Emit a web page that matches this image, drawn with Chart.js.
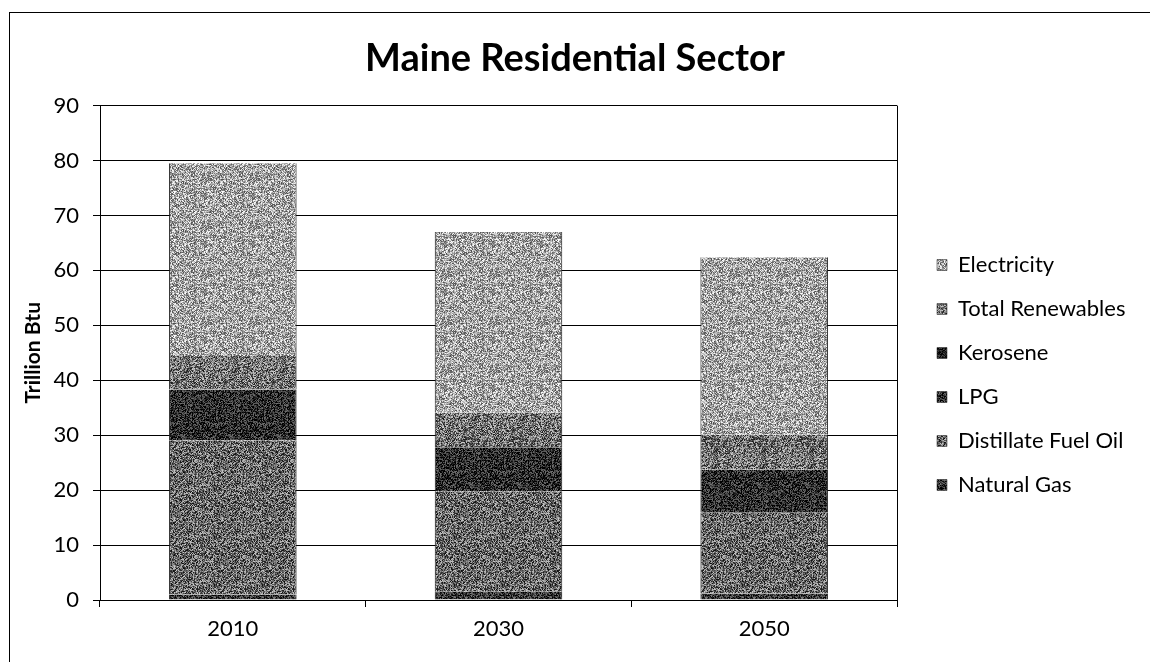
<!DOCTYPE html>
<html>
<head>
<meta charset="utf-8">
<script src="https://cdn.jsdelivr.net/npm/chart.js@4.4.1/dist/chart.umd.min.js"></script>
<style>
 html,body{margin:0;padding:0;background:#fff;}
 #wrap{position:relative;width:1150px;height:662px;}
</style>
</head>
<body>
<div id="wrap"><canvas id="chart" width="1150" height="662"></canvas></div>
<script>
// DATA
const years = ["2010", "2030", "2050"];
const naturalGas = [1.0, 1.5, 1.2];
const distillate = [28.1, 18.3, 14.7];
const lpg = [9.2, 8.0, 7.8];
const kerosene = [0, 0, 0];
const renewables = [6.1, 6.3, 6.4];
const electricity = [35.1, 32.9, 32.3];
const yTicks = [0, 10, 20, 30, 40, 50, 60, 70, 80, 90];

const FONT = "Lato, 'Open Sans', sans-serif";

// speckled grey fill, like the scanned print
let seed = 7;
function lcg(){ seed = (seed * 1103515245 + 12345) & 0x7fffffff; return seed / 0x7fffffff; }
function speckle(base, spread){
  const c = document.createElement("canvas");
  c.width = 48; c.height = 48;
  const g = c.getContext("2d");
  const img = g.createImageData(48, 48);
  for(let i = 0; i < 48 * 48; i++){
    let v = base + (lcg() - 0.5) * 2 * spread;
    v = Math.max(0, Math.min(255, Math.round(v)));
    img.data[i*4] = v; img.data[i*4+1] = v; img.data[i*4+2] = v; img.data[i*4+3] = 255;
  }
  g.putImageData(img, 0, 0);
  return g.createPattern(c, "repeat");
}

// frame round the whole chart + right edge of plot area + legend placement
const extras = {
  id: "extras",
  afterLayout(chart){
    const lg = chart.legend;
    const w = lg.width, h = lg.height;
    lg.left = 915; lg.right = 915 + w;
    lg.top = 232; lg.bottom = 232 + h;
  },
  afterDraw(chart){
    const ctx = chart.ctx, a = chart.chartArea;
    ctx.save();
    ctx.strokeStyle = "#000";
    ctx.lineWidth = 1;
    ctx.strokeRect(9.5, 12.5, 1160, 700);
    ctx.beginPath();
    ctx.moveTo(Math.round(a.right) + 0.5, a.top);
    ctx.lineTo(Math.round(a.right) + 0.5, a.bottom);
    ctx.stroke();
    ctx.restore();
  }
};

function ds(label, data, color){
  return {
    label: label,
    data: data,
    backgroundColor: color,
    borderColor: "#1a1a1a",
    borderWidth: {left: 1, right: 1, top: 0, bottom: 0},
    borderSkipped: false,
    barPercentage: 0.48,
    categoryPercentage: 1,
    yAxisID: "y"
  };
}

window.onload = function(){
  new Chart(document.getElementById("chart"), {
    type: "bar",
    data: {
      labels: years,
      datasets: [
        ds("Natural Gas", naturalGas, speckle(55, 70)),
        ds("Distillate Fuel Oil", distillate, speckle(105, 95)),
        ds("LPG", lpg, speckle(45, 70)),
        ds("Kerosene", kerosene, speckle(30, 50)),
        ds("Total Renewables", renewables, speckle(115, 95)),
        ds("Electricity", electricity, speckle(165, 90))
      ]
    },
    options: {
      responsive: false,
      animation: false,
      layout: {padding: {top: 12, left: 0, right: 0, bottom: 0}},
      plugins: {
        title: {
          display: true,
          text: "Maine Residential Sector",
          color: "#000",
          font: {family: FONT, size: 38, weight: "bold"},
          padding: {top: 24, bottom: 24}
        },
        legend: {
          position: "chartArea",
          align: "start",
          reverse: true,
          labels: {
            color: "#000",
            font: {family: FONT, size: 22},
            boxWidth: 10,
            boxHeight: 11,
            padding: 22
          }
        },
        tooltip: {enabled: false}
      },
      scales: {
        x: {
          stacked: true,
          afterFit: s => { s.height = 62; },
          grid: {drawOnChartArea: false, drawTicks: true, tickLength: 7, color: "#000", offset: true},
          border: {color: "#000", width: 1},
          ticks: {color: "#000", font: {family: FONT, size: 22}, padding: 9}
        },
        y: {
          stacked: true,
          min: 0,
          max: 90,
          afterFit: s => { s.width = 100; },
          afterBuildTicks: s => { s.ticks = yTicks.map(v => ({value: v})); },
          grid: {color: "#000", lineWidth: 1, tickLength: 7},
          border: {color: "#000", width: 1},
          ticks: {color: "#000", font: {family: FONT, size: 22}, padding: 14},
          title: {
            display: true,
            text: "Trillion Btu",
            color: "#000",
            font: {family: FONT, size: 21, weight: "bold"},
            padding: {top: 21, bottom: 0}
          }
        },
        // empty right-hand strip that keeps room for the legend
        side: {
          position: "right",
          display: true,
          afterFit: s => { s.width = 253; },
          grid: {drawOnChartArea: false, drawTicks: false},
          border: {display: false},
          ticks: {display: false}
        }
      }
    },
    plugins: [extras]
  });
};
</script>
</body>
</html>
